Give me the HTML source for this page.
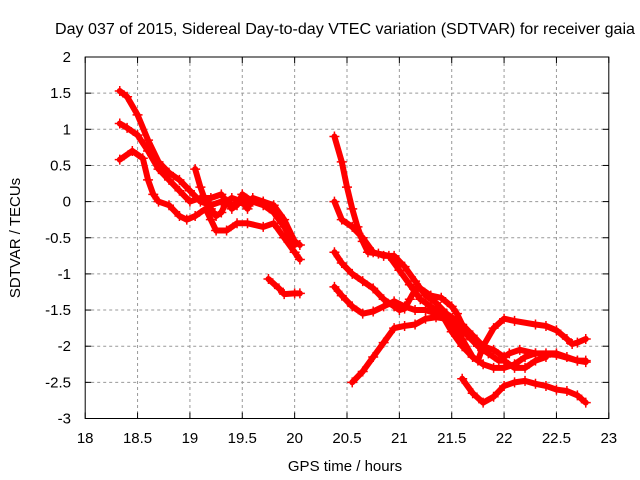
<!DOCTYPE html>
<html><head><meta charset="utf-8"><style>
body{margin:0;background:#fff}
svg{display:block;font-family:"Liberation Sans",sans-serif}
</style></head><body>
<svg id="chart" width="640" height="480" viewBox="0 0 640 480" xmlns="http://www.w3.org/2000/svg">
<rect width="640" height="480" fill="#fff"/>
<text x="55" y="34" font-size="16" textLength="580" lengthAdjust="spacingAndGlyphs">Day 037 of 2015, Sidereal Day-to-day VTEC variation (SDTVAR) for receiver gaia</text>
<g id="grid"></g>
<g id="axes"></g>
<g id="series"></g>
<text x="345" y="471" font-size="15" text-anchor="middle">GPS time / hours</text>
<text transform="translate(20,238) rotate(-90)" font-size="15" text-anchor="middle">SDTVAR / TECUs</text>
</svg>
<script>
const xTicks=[18,18.5,19,19.5,20,20.5,21,21.5,22,22.5,23];
const xTickLabels=["18","18.5","19","19.5","20","20.5","21","21.5","22","22.5","23"];
const yTicks=[2,1.5,1,0.5,0,-0.5,-1,-1.5,-2,-2.5,-3];
const yTickLabels=["2","1.5","1","0.5","0","-0.5","-1","-1.5","-2","-2.5","-3"];
const seriesA=[[18.33,1.53],[18.4,1.45],[18.5,1.2],[18.6,0.85],[18.7,0.55],[18.8,0.4],[18.9,0.3],[19.0,0.15],[19.1,0.0],[19.2,-0.05],[19.3,0.0],[19.4,-0.05],[19.5,0.0],[19.6,0.0],[19.7,0.0],[19.8,-0.1],[19.9,-0.3],[20.0,-0.55],[20.05,-0.6]];
const seriesB=[[18.33,1.08],[18.4,1.02],[18.5,0.92],[18.6,0.7],[18.7,0.45],[18.8,0.3],[18.9,0.15],[19.0,0.0],[19.1,0.05],[19.2,0.05],[19.3,0.1],[19.35,0.0],[19.4,-0.1],[19.45,-0.05],[19.5,0.1],[19.6,0.0],[19.7,-0.05],[19.8,-0.15],[19.9,-0.35],[20.0,-0.6]];
const seriesC=[[18.33,0.58],[18.45,0.7],[18.55,0.6],[18.6,0.3],[18.65,0.1],[18.7,0.0],[18.8,-0.05],[18.9,-0.2],[18.97,-0.25],[19.05,-0.2],[19.15,-0.1],[19.2,-0.25],[19.25,-0.4],[19.35,-0.4],[19.45,-0.3],[19.55,-0.3],[19.7,-0.35],[19.8,-0.3],[19.9,-0.5],[20.0,-0.7],[20.05,-0.8]];
const seriesD=[[19.05,0.45],[19.1,0.2],[19.15,0.0],[19.2,-0.1],[19.25,-0.2],[19.3,-0.15],[19.35,0.0],[19.4,0.05],[19.5,0.0],[19.55,-0.1],[19.6,0.05],[19.7,0.0],[19.8,-0.05],[19.9,-0.25],[20.0,-0.55]];
const seriesE=[[19.75,-1.07],[19.85,-1.2],[19.9,-1.28],[20.0,-1.27],[20.05,-1.27]];
const seriesF=[[20.38,0.9],[20.45,0.55],[20.5,0.2],[20.55,-0.1],[20.6,-0.35],[20.65,-0.55],[20.7,-0.7],[20.8,-0.72],[20.9,-0.75],[21.0,-0.95],[21.1,-1.15],[21.2,-1.35],[21.3,-1.45],[21.4,-1.55],[21.5,-1.8],[21.6,-2.0],[21.7,-2.15],[21.8,-2.25],[21.9,-2.3],[22.0,-2.3],[22.1,-2.25],[22.2,-2.15],[22.3,-2.1],[22.4,-2.1],[22.5,-2.1],[22.6,-2.15],[22.7,-2.2],[22.78,-2.2]];
const seriesG=[[20.38,0.0],[20.45,-0.25],[20.55,-0.35],[20.65,-0.5],[20.75,-0.7],[20.85,-0.75],[20.95,-0.75],[21.05,-0.9],[21.15,-1.1],[21.25,-1.3],[21.35,-1.4],[21.45,-1.55],[21.5,-1.65],[21.6,-1.9],[21.7,-2.15],[21.75,-2.2],[21.8,-2.0],[21.9,-1.75],[22.0,-1.62],[22.1,-1.65],[22.3,-1.7],[22.4,-1.72],[22.5,-1.78],[22.6,-1.9],[22.65,-1.97],[22.7,-1.95],[22.78,-1.9]];
const seriesH=[[20.38,-0.7],[20.45,-0.85],[20.55,-1.0],[20.65,-1.1],[20.75,-1.2],[20.85,-1.35],[20.95,-1.45],[21.0,-1.5],[21.05,-1.48],[21.1,-1.35],[21.15,-1.22],[21.2,-1.2],[21.3,-1.3],[21.4,-1.33],[21.5,-1.45],[21.55,-1.55],[21.6,-1.7],[21.7,-1.85],[21.8,-2.0],[21.9,-2.05],[22.0,-2.15],[22.05,-2.1],[22.15,-2.05],[22.3,-2.1],[22.5,-2.12],[22.7,-2.2],[22.78,-2.22]];
const seriesI=[[20.38,-1.18],[20.45,-1.3],[20.55,-1.45],[20.65,-1.55],[20.75,-1.52],[20.85,-1.45],[20.95,-1.38],[21.05,-1.45],[21.15,-1.5],[21.25,-1.5],[21.35,-1.55],[21.45,-1.55],[21.55,-1.65],[21.65,-1.85],[21.75,-2.0],[21.85,-2.1],[21.95,-2.2],[22.0,-2.2],[22.1,-2.3],[22.2,-2.3],[22.3,-2.2],[22.4,-2.15]];
const seriesJ=[[20.55,-2.5],[20.65,-2.35],[20.75,-2.15],[20.85,-1.95],[20.95,-1.75],[21.05,-1.72],[21.15,-1.7],[21.25,-1.62],[21.35,-1.6],[21.45,-1.62],[21.55,-1.7],[21.65,-1.85]];
const seriesK=[[21.6,-2.45],[21.7,-2.65],[21.8,-2.78],[21.9,-2.7],[22.0,-2.55],[22.1,-2.5],[22.2,-2.48],[22.3,-2.52],[22.4,-2.55],[22.5,-2.6],[22.6,-2.62],[22.7,-2.68],[22.78,-2.78]];
const allSeries=[seriesA,seriesB,seriesC,seriesD,seriesE,seriesF,seriesG,seriesH,seriesI,seriesJ,seriesK];

const L=85.2,R=608.8,T=57,B=418.5;
const xS=v=>L+(v-18)/(23-18)*(R-L);
const yS=v=>T+(2-v)/(2-(-3))*(B-T);
const NS="http://www.w3.org/2000/svg";
function mk(tag,attrs,parent){const e=document.createElementNS(NS,tag);for(const k in attrs)e.setAttribute(k,attrs[k]);parent.appendChild(e);return e;}
const grid=document.getElementById('grid'),axes=document.getElementById('axes'),ser=document.getElementById('series');
xTicks.forEach((t,i)=>{
  const x=xS(t);
  if(i>0&&i<xTicks.length-1){const g=mk('line',{x1:x,x2:x,y1:T,y2:B,stroke:'#999','stroke-dasharray':'3,3'},grid);
  
  }
  mk('line',{x1:x,x2:x,y1:B,y2:B-6,stroke:'#000'},axes);
  mk('line',{x1:x,x2:x,y1:T,y2:T+6,stroke:'#000'},axes);
  const lb=mk('text',{x:x,y:443,'font-size':15,'text-anchor':'middle'},axes);lb.textContent=xTickLabels[i];
  
  
});
yTicks.forEach((t,i)=>{
  const y=yS(t);
  if(i>0&&i<yTicks.length-1){const g=mk('line',{x1:L,x2:R,y1:y,y2:y,stroke:'#999','stroke-dasharray':'3,3'},grid);
  
  }
  mk('line',{x1:L,x2:L+6,y1:y,y2:y,stroke:'#000'},axes);
  mk('line',{x1:R,x2:R-6,y1:y,y2:y,stroke:'#000'},axes);
  const lb=mk('text',{x:71,y:y+5,'font-size':15,'text-anchor':'end'},axes);lb.textContent=yTickLabels[i];
  
  
});
const fr=mk('rect',{x:L,y:T,width:R-L,height:B-T,fill:'none',stroke:'#000'},axes);


allSeries.forEach((s,si)=>{
  const g=mk('g',{},ser);
  
  
  const pl=mk('polyline',{points:s.map(p=>xS(p[0])+','+yS(p[1])).join(' '),fill:'none',stroke:'#f00','stroke-width':6,'stroke-linejoin':'round','stroke-linecap':'round'},g);
  
  
  s.forEach(p=>{const x=xS(p[0]),y=yS(p[1]);
    const m=mk('path',{d:`M${x-5},${y}H${x+5}M${x},${y-5}V${y+5}`,stroke:'#f00','stroke-width':1.5},g);
    
    
  });
});
</script>
</body></html>
